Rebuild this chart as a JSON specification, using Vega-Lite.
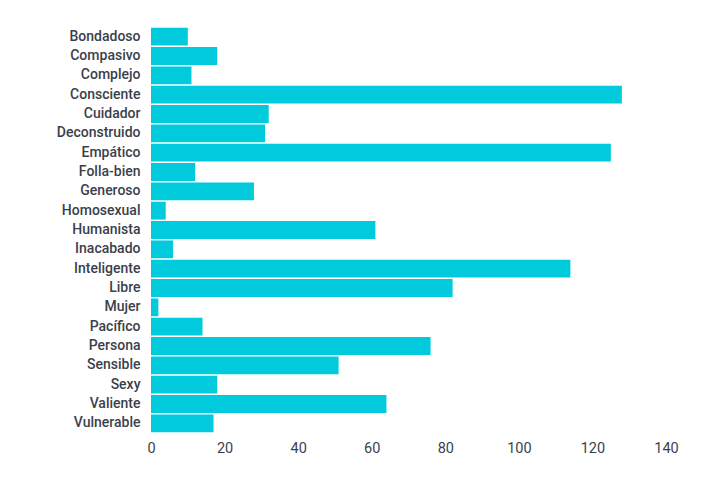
{
  "$schema": "https://vega.github.io/schema/vega-lite/v6.json",
  "width": 515,
  "height": 406,
  "autosize": {"type": "none"},
  "padding": {"left": 151, "top": 27, "right": 59, "bottom": 46},
  "background": "white",
  "config": {
    "view": {"stroke": null},
    "axis": {"labelFont": "Roboto", "labelColor": "#3b3f4c", "labelFontSize": 14, "labelFontWeight": 500, "domain": false, "ticks": false, "grid": false, "title": null}
  },
  "data": {
    "values": [
      {"word": "Bondadoso", "count": 10},
      {"word": "Compasivo", "count": 18},
      {"word": "Complejo", "count": 11},
      {"word": "Consciente", "count": 128},
      {"word": "Cuidador", "count": 32},
      {"word": "Deconstruido", "count": 31},
      {"word": "Empático", "count": 125},
      {"word": "Folla-bien", "count": 12},
      {"word": "Generoso", "count": 28},
      {"word": "Homosexual", "count": 4},
      {"word": "Humanista", "count": 61},
      {"word": "Inacabado", "count": 6},
      {"word": "Inteligente", "count": 114},
      {"word": "Libre", "count": 82},
      {"word": "Mujer", "count": 2},
      {"word": "Pacífico", "count": 14},
      {"word": "Persona", "count": 76},
      {"word": "Sensible", "count": 51},
      {"word": "Sexy", "count": 18},
      {"word": "Valiente", "count": 64},
      {"word": "Vulnerable", "count": 17}
    ]
  },
  "mark": {"type": "bar", "color": "#00CADC"},
  "encoding": {
    "y": {"field": "word", "type": "nominal", "sort": null, "scale": {"paddingInner": 0.08, "paddingOuter": 0.04}, "axis": {"labelPadding": 11}},
    "x": {"field": "count", "type": "quantitative", "scale": {"domain": [0, 140], "nice": false}, "axis": {"values": [0, 20, 40, 60, 80, 100, 120, 140], "labelPadding": 8, "labelFontSize": 14.5, "labelFontWeight": 400, "labelFlush": false}}
  }
}
